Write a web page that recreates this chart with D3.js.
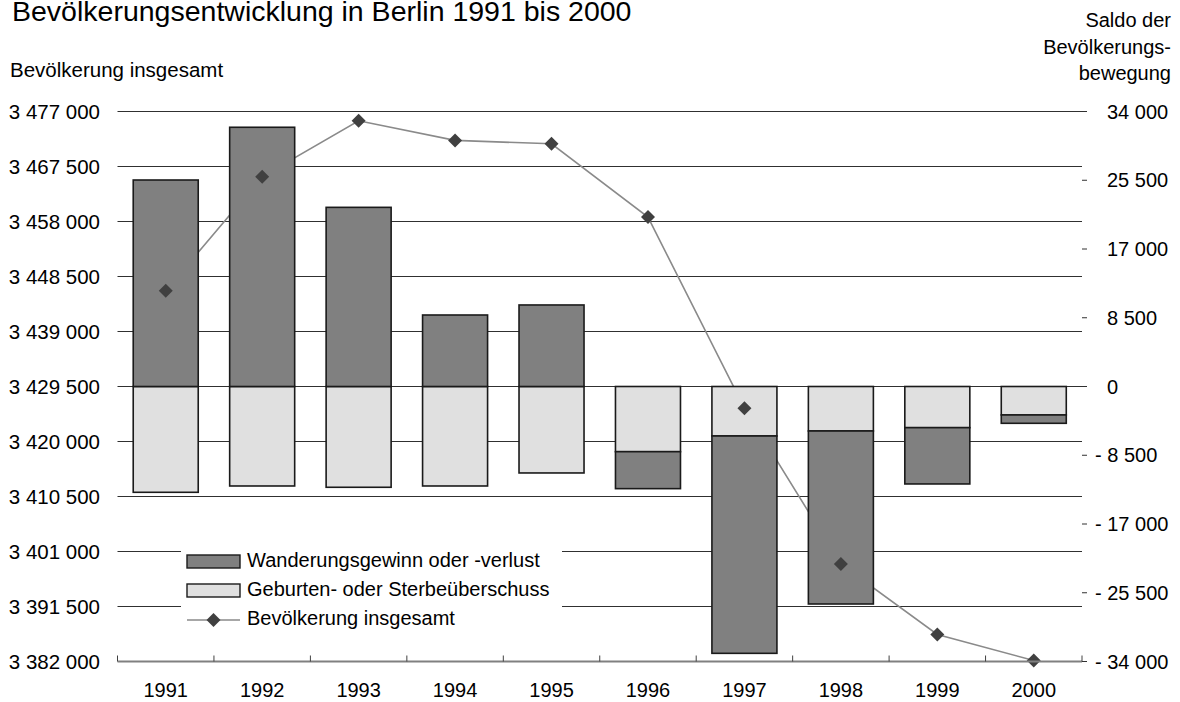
<!DOCTYPE html>
<html>
<head>
<meta charset="utf-8">
<script src="https://cdn.jsdelivr.net/npm/d3@7"></script>
<style>
    body { margin: 0; background: #fff; }
    svg { display: block; font-family: "Liberation Sans", Arial, sans-serif; }
</style>
</head>
<body>
<div id="chart"></div>
<script>
const years = ["1991", "1992", "1993", "1994", "1995", "1996", "1997", "1998", "1999", "2000"];
const wanderung = [25530, 32050, 22150, 8840, 10080, -4570, -26870, -21390, -6960, -1030];
const geburten = [-13080, -12300, -12460, -12300, -10690, -8060, -6120, -5500, -5090, -3520];
const bevoelkerung = [3446030, 3465750, 3475390, 3472010, 3471420, 3458760, 3425760, 3398820, 3386670, 3382170];

const leftTicks = [3382000, 3391500, 3401000, 3410500, 3420000, 3429500, 3439000, 3448500, 3458000, 3467500, 3477000];
const rightTicks = [-34000, -25500, -17000, -8500, 0, 8500, 17000, 25500, 34000];

const seriesNames = ["Wanderungsgewinn oder -verlust", "Geburten- oder Sterbeüberschuss", "Bevölkerung insgesamt"];

const width = 1180, height = 702;
const plotLeft = 117.5, plotRight = 1082, plotTop = 111.5, plotBottom = 661.5;

const darkFill = "#808080";
const lightFill = "#e0e0e0";
const markerFill = "#404040";
const lineColor = "#8a8a8a";

const svg = d3.select("#chart").append("svg")
    .attr("width", width)
    .attr("height", height);

const x = d3.scaleBand()
    .domain(years)
    .range([plotLeft, plotRight]);

const barW = x.bandwidth() * 0.674;

const yLeft = d3.scaleLinear()
    .domain([3382000, 3477000])
    .range([plotBottom, plotTop]);

const yRight = d3.scaleLinear()
    .domain([-34000, 34000])
    .range([plotBottom, plotTop]);

function fmtNum(v) {
    const s = d3.format(",")(Math.abs(v)).replace(/,/g, " ");
    return v < 0 ? "- " + s : s;
}

// title
svg.append("text")
    .attr("x", 12)
    .attr("y", 20.5)
    .text("Bevölkerungsentwicklung in Berlin 1991 bis 2000")
    .style("font-size", "28.5px")
    .style("fill", "#000");

svg.append("text")
    .attr("x", 10)
    .attr("y", 77)
    .text("Bevölkerung insgesamt")
    .style("font-size", "20.5px");

const rightTitle = ["Saldo der", "Bevölkerungs-", "bewegung"];
svg.append("g").selectAll("text")
    .data(rightTitle)
    .join("text")
    .attr("x", 1171)
    .attr("y", (d, i) => 27 + i * 26.5)
    .attr("text-anchor", "end")
    .text(d => d)
    .style("font-size", "20px");

// gridlines (left axis ticks)
svg.append("g").selectAll("line")
    .data(leftTicks.slice(1))
    .join("line")
    .attr("x1", plotLeft)
    .attr("x2", plotRight)
    .attr("y1", d => yLeft(d))
    .attr("y2", d => yLeft(d))
    .style("stroke", "#303030")
    .style("stroke-width", 1.2);

svg.append("g").selectAll("text")
    .data(leftTicks)
    .join("text")
    .attr("x", 100)
    .attr("y", d => yLeft(d))
    .attr("dy", "0.36em")
    .attr("text-anchor", "end")
    .text(d => fmtNum(d))
    .style("font-size", "20.5px");

// right axis
svg.append("g").selectAll("line")
    .data(rightTicks)
    .join("line")
    .attr("x1", plotRight)
    .attr("x2", plotRight + 5)
    .attr("y1", d => yRight(d))
    .attr("y2", d => yRight(d))
    .style("stroke", "#303030")
    .style("stroke-width", 1);

svg.append("g").selectAll("text")
    .data(rightTicks)
    .join("text")
    .attr("x", d => d < 0 ? 1095 : 1107)
    .attr("y", d => yRight(d))
    .attr("dy", "0.36em")
    .text(d => fmtNum(d))
    .style("font-size", "20px");

// line behind the bars
const line = d3.line()
    .x((d, i) => x(years[i]) + x.bandwidth() / 2)
    .y(d => yLeft(d));

svg.append("path")
    .datum(bevoelkerung)
    .attr("d", line)
    .style("fill", "none")
    .style("stroke", lineColor)
    .style("stroke-width", 1.6);

// stacked bars: light from zero, dark stacked on top if same sign
const bars = svg.append("g");
years.forEach((yr, i) => {
    const g = geburten[i];
    const w = wanderung[i];
    const bx = x(yr) + (x.bandwidth() - barW) / 2;
    let lightY0 = 0, lightY1 = g;
    let darkY0 = 0, darkY1 = w;
    if (Math.sign(g) === Math.sign(w)) {
        darkY0 = g;
        darkY1 = g + w;
    }
    bars.append("rect")
        .attr("x", bx)
        .attr("width", barW)
        .attr("y", yRight(Math.max(lightY0, lightY1)))
        .attr("height", Math.abs(yRight(lightY0) - yRight(lightY1)))
        .style("fill", lightFill)
        .style("stroke", "#1a1a1a")
        .style("stroke-width", 1.6);
    bars.append("rect")
        .attr("x", bx)
        .attr("width", barW)
        .attr("y", yRight(Math.max(darkY0, darkY1)))
        .attr("height", Math.abs(yRight(darkY0) - yRight(darkY1)))
        .style("fill", darkFill)
        .style("stroke", "#1a1a1a")
        .style("stroke-width", 1.6);
});

// markers
const diamond = d3.symbol().type(d3.symbolSquare).size(98);
svg.append("g").selectAll("path")
    .data(bevoelkerung)
    .join("path")
    .attr("d", diamond)
    .attr("transform", (d, i) => `translate(${x(years[i]) + x.bandwidth() / 2},${yLeft(d)}) rotate(45)`)
    .style("fill", markerFill);

// x axis
svg.append("line")
    .attr("x1", plotLeft)
    .attr("x2", plotRight)
    .attr("y1", plotBottom)
    .attr("y2", plotBottom)
    .style("stroke", "#808080")
    .style("stroke-width", 2);

const tickXs = years.map(d => x(d)).concat([plotRight]);
svg.append("g").selectAll("line")
    .data(tickXs)
    .join("line")
    .attr("x1", d => d)
    .attr("x2", d => d)
    .attr("y1", plotBottom - 6)
    .attr("y2", plotBottom)
    .style("stroke", "#404040")
    .style("stroke-width", 1);

svg.append("g").selectAll("text")
    .data(years)
    .join("text")
    .attr("x", d => x(d) + x.bandwidth() / 2)
    .attr("y", 697)
    .attr("text-anchor", "middle")
    .text(d => d)
    .style("font-size", "20px");

// legend
const legend = svg.append("g");
legend.append("rect")
    .attr("x", 181)
    .attr("y", 540)
    .attr("width", 381)
    .attr("height", 95)
    .style("fill", "#fff");

const legFills = [darkFill, lightFill];
legFills.forEach((f, i) => {
    legend.append("rect")
        .attr("x", 187)
        .attr("y", 555 + i * 29)
        .attr("width", 53)
        .attr("height", 13)
        .style("fill", f)
        .style("stroke", "#1a1a1a")
        .style("stroke-width", 1.4);
});
legend.append("line")
    .attr("x1", 187)
    .attr("x2", 240)
    .attr("y1", 620)
    .attr("y2", 620)
    .style("stroke", lineColor)
    .style("stroke-width", 1.6);
legend.append("path")
    .attr("d", diamond)
    .attr("transform", "translate(213.5,620) rotate(45)")
    .style("fill", markerFill);

legend.selectAll("text")
    .data(seriesNames)
    .join("text")
    .attr("x", 247)
    .attr("y", (d, i) => 567 + i * 29)
    .text(d => d)
    .style("font-size", "20px");
</script>
</body>
</html>
